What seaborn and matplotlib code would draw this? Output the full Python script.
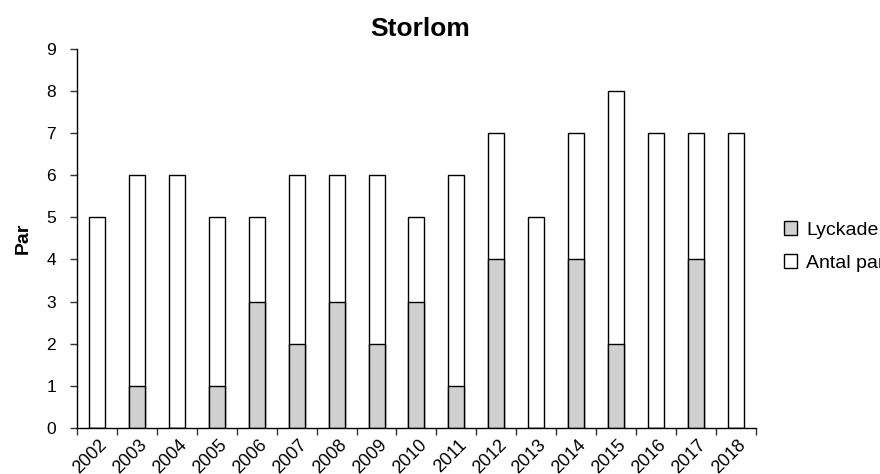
import matplotlib
matplotlib.use("Agg")
import matplotlib.pyplot as plt
import matplotlib.transforms as mtransforms
import seaborn as sns
import pandas as pd

years = ["2002", "2003", "2004", "2005", "2006", "2007", "2008", "2009", "2010",
         "2011", "2012", "2013", "2014", "2015", "2016", "2017", "2018"]
antal_par = [5, 6, 6, 5, 5, 6, 6, 6, 5, 6, 7, 5, 7, 8, 7, 7, 7]
lyckade = [0, 1, 0, 1, 3, 2, 3, 2, 3, 1, 4, 0, 4, 2, 0, 4, 0]

df = pd.DataFrame({"År": years, "Antal par": antal_par, "Lyckade": lyckade})

sns.set_style("white")
plt.rcParams["font.family"] = ["Liberation Sans", "DejaVu Sans"]
plt.rcParams["text.color"] = "black"
plt.rcParams["xtick.color"] = "black"
plt.rcParams["ytick.color"] = "black"
plt.rcParams["axes.labelcolor"] = "black"

fig = plt.figure(figsize=(8.8, 4.74), dpi=100)
ax = fig.add_axes([0.0875, 0.097, 0.7715, 0.8])

sns.barplot(data=df, x="År", y="Antal par", color="white", saturation=1,
            edgecolor="black", linewidth=1.0, width=0.4, label="Antal par",
            legend=False, ax=ax)
sns.barplot(data=df, x="År", y="Lyckade", color="#d0d0d0", saturation=1,
            edgecolor="black", linewidth=1.0, width=0.4, label="Lyckade",
            legend=False, ax=ax)

ax.set_xlim(-0.5, len(years) - 0.5)
ax.set_ylim(0, 9)
ax.set_yticks(range(0, 10))
ax.set_xticks(range(len(years)))
ax.set_xticklabels(years, rotation=45, ha="right", rotation_mode="anchor")
ax.set_xticks([i - 0.5 for i in range(len(years) + 1)], minor=True)
ax.tick_params(axis="x", which="major", length=0, pad=6, labelsize=13)
ax.tick_params(axis="x", which="minor", length=5, width=1, color="#333333",
               direction="out", bottom=True)
ax.tick_params(axis="y", length=5, width=1, color="#333333", direction="out",
               left=True, labelsize=12.5, pad=10)

# nudge the rotated year labels a touch to the right
shift = mtransforms.ScaledTranslation(0.015, 0, fig.dpi_scale_trans)
for lbl in ax.get_xticklabels():
    lbl.set_transform(lbl.get_transform() + shift)

for side in ["top", "right"]:
    ax.spines[side].set_visible(False)
for side in ["left", "bottom"]:
    ax.spines[side].set_color("black")
    ax.spines[side].set_linewidth(1.0)

ax.set_xlabel("")
ax.set_ylabel("Par", fontsize=14, fontweight="bold", labelpad=10.5)
ax.set_title("Storlom", fontsize=19, fontweight="bold", pad=9, x=0.505)

legend_handles = {}
for container, name in zip(ax.containers, ["Antal par", "Lyckade"]):
    legend_handles[name] = container.patches[0]
fig.legend([legend_handles["Lyckade"], legend_handles["Antal par"]],
           ["Lyckade", "Antal par"],
           loc="center left", bbox_to_anchor=(0.8706, 0.48), frameon=False,
           fontsize=14, handlelength=0.7, handleheight=0.7, handletextpad=0.45,
           labelspacing=0.8)

fig.savefig("out.png", dpi=100)
